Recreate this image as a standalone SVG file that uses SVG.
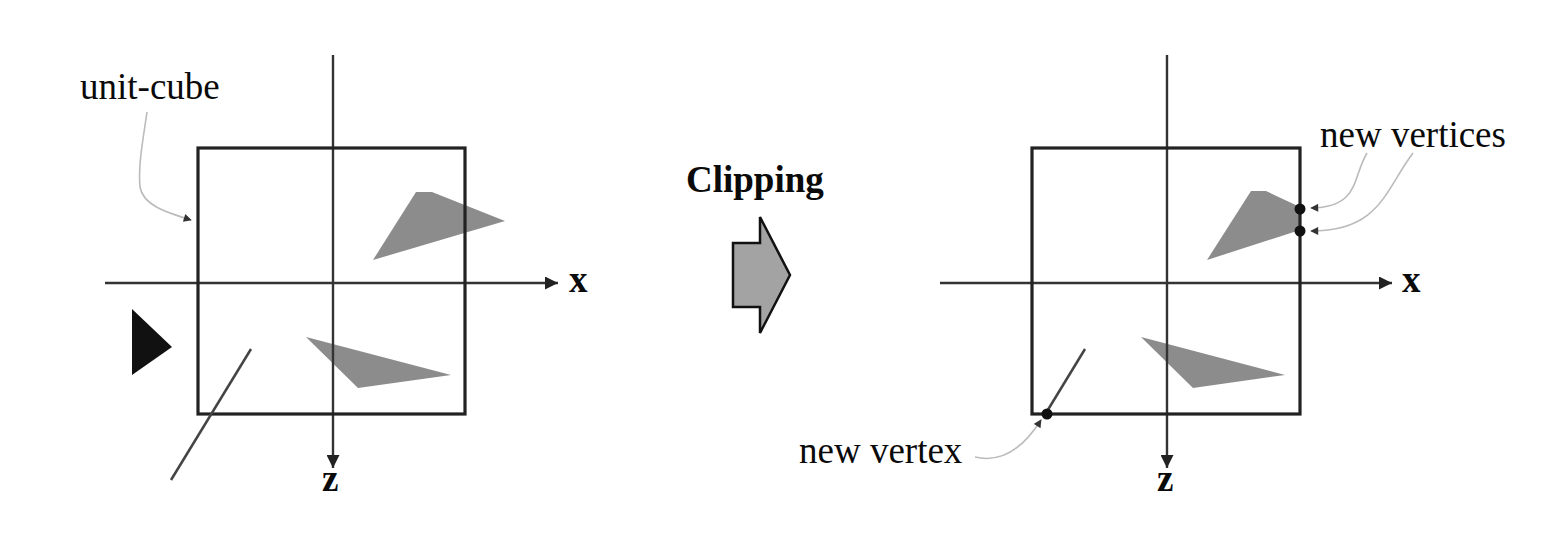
<svg xmlns="http://www.w3.org/2000/svg" width="1552" height="552" viewBox="0 0 1552 552">
<style>
.lbl{font-family:"Liberation Serif","Times New Roman",serif;font-size:37px;fill:#0a0a0a}
.bold{font-weight:bold}
.axis{stroke:#333;stroke-width:2.4;fill:none}
.cube{stroke:#222;stroke-width:3.2;fill:none}
.poly{fill:#8c8c8c}
.seg{stroke:#444;stroke-width:2.5;fill:none}
.lead{stroke:#bbb;stroke-width:1.6;fill:none}
</style>
<defs>
<marker id="axh" viewBox="0 0 10 10" refX="10" refY="5" markerWidth="15" markerHeight="13" markerUnits="userSpaceOnUse" orient="auto">
<path d="M0,0 L10,5 L0,10 Z" fill="#222"/>
</marker>
<marker id="ldh" viewBox="0 0 10 10" refX="9" refY="5" markerWidth="9" markerHeight="8" markerUnits="userSpaceOnUse" orient="auto">
<path d="M0,0 L10,5 L0,10 Z" fill="#333"/>
</marker>
</defs>
<rect width="1552" height="552" fill="#fff"/>

<g id="left-scene">
<polygon class="poly" points="416,192 432,192 505,221 373,260"/>
<polygon class="poly" points="306,337 451,375 358,388"/>
<line class="axis" x1="105" y1="283" x2="558" y2="283" marker-end="url(#axh)"/>
<line class="axis" x1="333" y1="55" x2="333" y2="468" marker-end="url(#axh)"/>
<rect class="cube" x="198" y="148" width="267" height="266"/>
<line class="seg" x1="251" y1="349" x2="171" y2="480"/>
<polygon points="132,309 172,347 132,375" fill="#111"/>
<text class="lbl" x="80" y="99">unit-cube</text>
<text class="lbl bold" x="569" y="292">x</text>
<text class="lbl bold" x="322" y="491">z</text>
</g>

<g id="clipping-arrow">
<polygon points="733,243 760,243 760,217 790,275 760,333 760,307 733,307" fill="#a3a3a3" stroke="#111" stroke-width="2.5" stroke-linejoin="miter"/>
<text class="lbl bold" x="686" y="192">Clipping</text>
</g>

<g id="right-scene">
<polygon class="poly" points="1251,191 1266,191 1300,207 1300,230 1207,260"/>
<polygon class="poly" points="1141,337 1285,375 1193,388"/>
<line class="axis" x1="940" y1="283" x2="1392" y2="283" marker-end="url(#axh)"/>
<line class="axis" x1="1167" y1="55" x2="1167" y2="468" marker-end="url(#axh)"/>
<rect class="cube" x="1032" y="148" width="268" height="266"/>
<line class="seg" x1="1085" y1="349" x2="1046" y2="413"/>
<circle cx="1300" cy="209" r="5.5" fill="#111"/>
<circle cx="1300" cy="231" r="5.5" fill="#111"/>
<circle cx="1047" cy="414" r="5.5" fill="#111"/>
<text class="lbl" x="1320" y="147">new vertices</text>
<text class="lbl" x="799" y="463">new vertex</text>
<text class="lbl bold" x="1402" y="292">x</text>
<text class="lbl bold" x="1157" y="491">z</text>
</g>

<g id="connectors">
<path class="lead" d="M147,112 C143,140 138,165 140,187 C143,205 165,212 191,220" marker-end="url(#ldh)"/>
<path class="lead" d="M1367,153 C1352,178 1360,207 1311,208" marker-end="url(#ldh)"/>
<path class="lead" d="M1413,153 C1385,190 1380,231 1311,231" marker-end="url(#ldh)"/>
<path class="lead" d="M975,457 C1000,463 1022,450 1041,420" marker-end="url(#ldh)"/>
</g>
</svg>
